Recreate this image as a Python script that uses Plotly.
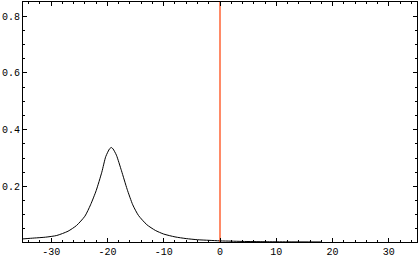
import plotly.graph_objects as go

curve_x = [-35, -33, -31, -29, -27, -25.5, -24, -23, -22, -21, -20.3, -19.6, -19.3,
           -19.0, -18.4, -17.5, -16.5, -15.5, -14.5, -13, -11.5, -10, -8, -6, -4,
           -2, 0, 2, 4, 8, 12, 18]
curve_y = [0.015, 0.018, 0.021, 0.027, 0.042, 0.062, 0.095, 0.135, 0.185, 0.25,
           0.305, 0.333, 0.337, 0.332, 0.31, 0.255, 0.19, 0.135, 0.098, 0.065,
           0.045, 0.032, 0.022, 0.016, 0.012, 0.010, 0.008, 0.007, 0.006, 0.005,
           0.0045, 0.0042]
marker_x = [0, 0]
marker_y = [0.0, 0.9]

x_ticks = [-30, -20, -10, 0, 10, 20, 30]
x_labels = ["-30", "-20", "-10", "0", "10", "20", "30"]
y_ticks = [0.2, 0.4, 0.6, 0.8]
y_labels = ["0.2", "0.4", "0.6", "0.8"]

fig = go.Figure()
fig.add_trace(go.Scatter(x=curve_x, y=curve_y, mode="lines",
                         line=dict(color="black", width=1, shape="spline", smoothing=0.6),
                         showlegend=False, hoverinfo="skip"))
fig.add_trace(go.Scatter(x=marker_x, y=marker_y, mode="lines",
                         line=dict(color="#ff3c00", width=1.2),
                         showlegend=False, hoverinfo="skip"))

axis_font = dict(family="Liberation Mono", size=10, color="black")
fig.update_layout(
    width=420, height=259,
    margin=dict(l=23, r=3, t=1, b=16),
    paper_bgcolor="white", plot_bgcolor="white",
    xaxis=dict(range=[-35, 35], showgrid=False, zeroline=False,
               showline=True, linecolor="black", linewidth=1, mirror="allticks",
               ticks="inside", ticklen=4, tickcolor="black", tickwidth=1,
               tickvals=x_ticks, ticktext=x_labels, tickfont=axis_font,
               minor=dict(dtick=2, tick0=0, ticks="inside", ticklen=2,
                          tickcolor="black", showgrid=False)),
    yaxis=dict(range=[0.004, 0.85], showgrid=False, zeroline=False,
               showline=True, linecolor="black", linewidth=1, mirror="allticks",
               ticks="inside", ticklen=4, tickcolor="black", tickwidth=1,
               tickvals=y_ticks, ticktext=y_labels, tickfont=axis_font,
               minor=dict(dtick=0.05, tick0=0, ticks="inside", ticklen=2,
                          tickcolor="black", showgrid=False)),
)
fig.write_html("out.html")
